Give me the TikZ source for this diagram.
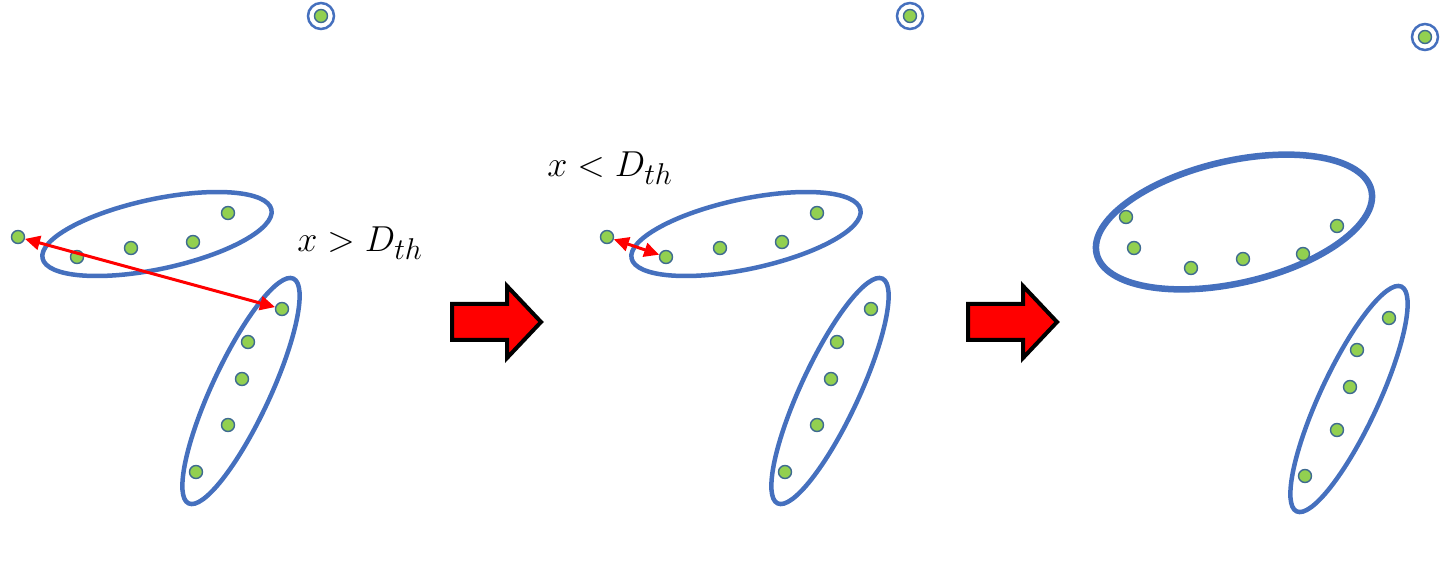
\documentclass[tikz,border=0pt]{standalone}
\usetikzlibrary{shapes.geometric,arrows.meta}

\definecolor{ringblue}{HTML}{4570BE}
\definecolor{dotgreen}{HTML}{92D050}
\definecolor{dotedge}{HTML}{3E6A91}

\tikzset{
  member/.style={circle, fill=dotgreen, draw=dotedge, line width=1.4pt, minimum size=13pt, inner sep=0pt},
  cluster/.style={ellipse, draw=ringblue, line width=4.5pt, inner sep=0pt},
  lonering/.style={circle, draw=ringblue, line width=2.5pt, minimum size=26pt, inner sep=0pt},
  gap/.style={{Triangle[length=15pt,width=14pt]}-{Triangle[length=15pt,width=14pt]}, red, line width=3pt},
  bigarrow/.style={fill=red, draw=black, line width=4pt, miter limit=10},
  lbl/.style={font=\Huge, scale=1.45}
}

\begin{document}
\begin{tikzpicture}[x=1pt, y=-1pt]
    \useasboundingbox (0,0) rectangle (1444,577);

    % 前两幅: 点的位置相同, 只是平移
    \foreach \p/\dx in {1/0, 2/589} {
        % 两个簇
        \node[cluster, minimum width=234pt, minimum height=70pt, rotate=12] (ch-\p) at (157+\dx,234) {};
        \node[cluster, minimum width=248pt, minimum height=58pt, rotate=65] (cv-\p) at (241+\dx,391) {};

        % 上方的孤立点
        \node[lonering] (r-\p) at (321+\dx,16) {};
        \node[member] (s-\p) at (r-\p) {};

        % 横向簇的点 (h1 在簇外)
        \foreach \x/\y [count=\i] in {18/237, 77/257, 131/248, 193/242, 228/213}
            \node[member] (h\i-\p) at (\x+\dx,\y) {};

        % 斜向簇的点
        \foreach \x/\y [count=\i] in {282/309, 248/342, 242/379, 228/425, 196/472}
            \node[member] (v\i-\p) at (\x+\dx,\y) {};
    }

    % 距离箭头
    \draw[gap] (h1-1) -- (v1-1); % 到另一个簇
    \draw[gap] (h1-2) -- (h2-2); % 到本簇

    % 距离条件
    \node[lbl] (gt) at (360,243) {$x > D_{th}$};
    \node[lbl] (lt) at (610,168) {$x < D_{th}$};

    % 第三幅: 合并后的结果
    \node[cluster, line width=6.5pt, minimum width=282pt, minimum height=122pt, rotate=13] (ch-3) at (1234,222) {};
    \node[cluster, minimum width=248pt, minimum height=58pt, rotate=65] (cv-3) at (1349,399) {};
    \node[lonering] (r-3) at (1425,37) {};
    \node[member] (s-3) at (r-3) {};
    \foreach \x/\y [count=\i] in {1126/217, 1134/248, 1191/268, 1243/259, 1303/254, 1337/226}
        \node[member] (h\i-3) at (\x,\y) {};
    \foreach \x/\y [count=\i] in {1389/318, 1357/350, 1350/387, 1337/430, 1305/476}
        \node[member] (v\i-3) at (\x,\y) {};

    % 红色大箭头
    \foreach \dx in {0,516}
        \draw[bigarrow] (452+\dx,304) -- (507+\dx,304) -- (507+\dx,286) -- (541+\dx,322)
            -- (507+\dx,358) -- (507+\dx,340) -- (452+\dx,340) -- cycle;
\end{tikzpicture}
\end{document}
